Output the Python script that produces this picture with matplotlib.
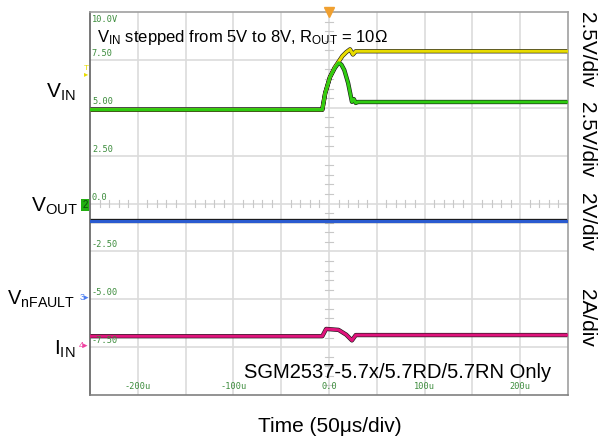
"""Scope capture: VIN line step 5V -> 8V, ROUT = 10 ohm (SGM2537-5.7x)."""
import matplotlib
matplotlib.use("Agg")
import matplotlib.pyplot as plt  # noqa: E402

plt.rcParams["font.family"] = ["Liberation Sans", "DejaVu Sans"]
plt.rcParams["mathtext.fontset"] = "custom"
plt.rcParams["mathtext.rm"] = "Liberation Sans"
plt.rcParams["mathtext.it"] = "Liberation Sans"

# screen values are in scope divisions scale (2.5 per div), time in us
VIN_T = [-250, -7, -4, 1, 6, 10, 14, 18, 22, 25, 28, 32, 250]
VIN_V = [4.90, 4.90, 5.76, 6.60, 7.10, 7.40, 7.70, 7.90, 8.05, 7.78, 7.95, 7.95, 7.95]

VOUT_T = [-250, -7, -4, 1, 6, 10, 13, 16, 20, 24, 26, 28, 30, 250]
VOUT_V = [4.90, 4.90, 5.76, 6.60, 7.07, 7.35, 7.25, 6.97, 6.29, 5.31, 5.45, 5.25, 5.30, 5.30]

VFLT_T = [-250, 250]
VFLT_V = [-0.92, -0.92]

IIN_T = [-250, -7, -3, 10, 18, 24, 28, 250]
IIN_V = [-6.93, -6.93, -6.55, -6.60, -6.85, -7.15, -6.87, -6.87]

Y_GRID = [10.0, 7.5, 5.0, 2.5, 0.0, -2.5, -5.0, -7.5]
Y_GRID_LABELS = ["10.0V", "7.50", "5.00", "2.50", "0.0", "-2.50", "-5.00", "-7.50"]
X_LABEL_POS = [-200, -100, 0, 100, 200]
X_LABELS = ["-200u", "-100u", "0.0", "100u", "200u"]

YELLOW = "#e8dc00"
GREEN = "#2ecc10"
BLUE = "#2a5bd0"
MAGENTA = "#e0147c"
LABEL_GREEN = "#3c8c3c"

W, H = 611, 438


def px(x, y):
    return x / W, 1 - y / H


fig = plt.figure(figsize=(W / 100, H / 100), dpi=100)
ax = fig.add_axes([90 / W, 1 - 395 / H, 478 / W, 383 / H])
ax.set_xlim(-250, 250)
ax.set_ylim(-10, 10)
ax.set_xticks([])
ax.set_yticks([])

# graticule
for x in range(-200, 250, 50):
    ax.axvline(x, color="#dcdcdc", lw=1.2, zorder=0)
for y in Y_GRID[1:]:
    ax.axhline(y, color="#dcdcdc", lw=1.2, zorder=0)
for i in range(-25, 26):
    if i % 5:
        ax.plot([i * 10, i * 10], [-0.2, 0.2], color="#c8c8c8", lw=0.8, zorder=0)
for j in range(-20, 21):
    if j % 5:
        ax.plot([-4, 4], [j * 0.5, j * 0.5], color="#c8c8c8", lw=0.8, zorder=0)

for s in ax.spines.values():
    s.set_color("#a0a0a0")
    s.set_linewidth(1.2)
ax.spines["left"].set_color("#606060")
ax.spines["bottom"].set_color("#808080")

# traces: dark edge then colour
for t, v, c in [(VIN_T, VIN_V, YELLOW), (VOUT_T, VOUT_V, GREEN),
                (VFLT_T, VFLT_V, BLUE), (IIN_T, IIN_V, MAGENTA)]:
    ax.plot(t, v, color="#1a1a1a", lw=3.1, zorder=2, solid_joinstyle="round")
    ax.plot(t, v, color=c, lw=2.2, zorder=3, solid_joinstyle="round")

# grid value labels
for y, lab in zip(Y_GRID, Y_GRID_LABELS):
    yy = y - 0.62 if y == 10.0 else y + 0.1
    ax.text(-248, yy, lab, color=LABEL_GREEN, fontsize=6.2,
            family="DejaVu Sans Mono", va="bottom", ha="left", zorder=4)
for x, lab in zip(X_LABEL_POS, X_LABELS):
    ax.text(x, -9.8, lab, color=LABEL_GREEN, fontsize=6.2,
            family="DejaVu Sans Mono", va="bottom", ha="center", zorder=4)

# trigger marker
ax.plot([0], [10], marker="v", color="#f0a030", ms=7, clip_on=False, zorder=5)

ax.text(-243, 8.68, r"V$_{\mathrm{IN}}$ stepped from 5V to 8V, R$_{\mathrm{OUT}}$ = 10Ω",
        fontsize=12, va="center", ha="left", zorder=5)
ax.text(232, -8.8, "SGM2537-5.7x/5.7RD/5.7RN Only", fontsize=14.5,
        va="center", ha="right", zorder=5)

# left channel labels
fig.text(*px(76, 92), r"V$_{\mathrm{IN}}$", fontsize=15, ha="right", va="center")
fig.text(*px(78, 206), r"V$_{\mathrm{OUT}}$", fontsize=15, ha="right", va="center")
fig.text(*px(75, 299), r"V$_{\mathrm{nFAULT}}$", fontsize=14.5, ha="right", va="center")
fig.text(*px(75, 349), r"I$_{\mathrm{IN}}$", fontsize=15, ha="right", va="center")

# channel ground markers
fig.text(*px(86, 72), "T\n▸", color=YELLOW, fontsize=6, ha="center", va="center",
         linespacing=0.8)
fig.text(*px(85, 205), "2", color="#0a4a0a", fontsize=7, ha="center", va="center",
         bbox=dict(boxstyle="square,pad=0.15", fc="#22b010", ec="none"))
fig.text(*px(84, 298), "3▸", color="#4a7cf0", fontsize=6.5, ha="center", va="center")
fig.text(*px(84, 346), "4▸", color="#f040a0", fontsize=6.5, ha="center", va="center")

# right volts/div labels
fig.text(*px(586, 50), "2.5V/div", fontsize=15, rotation=-90, ha="center", va="center")
fig.text(*px(586, 140), "2.5V/div", fontsize=15, rotation=-90, ha="center", va="center")
fig.text(*px(586, 222), "2V/div", fontsize=15, rotation=-90, ha="center", va="center")
fig.text(*px(586, 318), "2A/div", fontsize=15, rotation=-90, ha="center", va="center")

fig.text(*px(330, 426), "Time (50μs/div)", fontsize=15, ha="center", va="center")

fig.savefig("out.png", dpi=100)
